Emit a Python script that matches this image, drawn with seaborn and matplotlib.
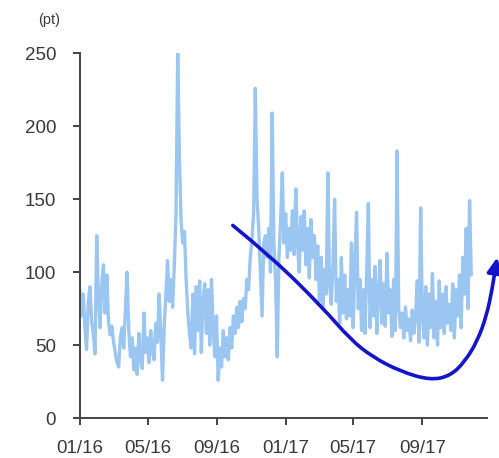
import matplotlib
matplotlib.use("Agg")
import matplotlib.pyplot as plt
import matplotlib.dates as mdates
from matplotlib.path import Path
from matplotlib.patches import FancyArrowPatch
import seaborn as sns
import pandas as pd

# serie, um ponto a cada 3 dias a partir de 01/01/2016
inicio = "2016-01-01"
valores = [
    88, 70, 85, 62, 47, 80, 90, 66, 58, 44,
    125, 84, 62, 92, 105, 72, 98, 66, 57, 63,
    52, 45, 38, 35, 55, 62, 48, 75, 100, 60,
    42, 55, 33, 48, 30, 58, 40, 34, 72, 45,
    55, 38, 60, 46, 40, 65, 52, 85, 58, 26,
    62, 85, 108, 80, 95, 76, 105, 140, 250, 180,
    135, 120, 128, 95, 72, 58, 48, 85, 44, 90,
    60, 94, 45, 80, 92, 58, 88, 50, 95, 62,
    42, 70, 26, 48, 35, 60, 42, 55, 40, 62,
    48, 70, 58, 76, 62, 80, 66, 82, 75, 95,
    88, 110, 122, 140, 226, 150, 130, 100, 70, 120,
    125, 110, 130, 100, 209, 120, 95, 42, 110, 135,
    168, 120, 140, 110, 130, 115, 142, 112, 157, 120,
    100, 138, 115, 142, 105, 130, 96, 136, 110, 125,
    95, 118, 80, 110, 76, 102, 85, 168, 92, 78,
    104, 150, 80, 95, 65, 110, 72, 98, 68, 88,
    70, 120, 62, 105, 141, 75, 95, 60, 88, 58,
    100, 147, 62, 95, 70, 104, 58, 85, 108, 65,
    92, 63, 113, 72, 88, 56, 95, 60, 183, 75,
    62, 72, 55, 76, 60, 68, 53, 74, 58, 70,
    94, 52, 144, 70, 55, 90, 50, 85, 62, 99,
    55, 80, 50, 94, 62, 85, 58, 90, 65, 78,
    60, 92, 55, 88, 70, 98, 62, 110, 85, 130,
    75, 149, 98,
]

# seta (tendencia desenhada a mao)
seta_datas = ["2016-09-29", "2016-12-08", "2017-03-07", "2017-04-26", "2017-06-04",
              "2017-07-24", "2017-09-15", "2017-10-21", "2017-11-16", "2017-12-08",
              "2017-12-24", "2018-01-03", "2018-01-12"]
seta_valores = [132, 110, 76, 54, 42, 32, 26, 29, 39, 53, 70, 88, 110]

yticks = [0, 50, 100, 150, 200, 250]

df = pd.DataFrame({"data": pd.date_range(inicio, periods=len(valores), freq="3D"),
                   "pt": valores})
seta = pd.DataFrame({"data": pd.to_datetime(seta_datas), "pt": seta_valores})

sns.set_style("ticks")
plt.rcParams["font.family"] = ["Liberation Sans", "DejaVu Sans"]

fig = plt.figure(figsize=(4.99, 4.58), dpi=100)
ax = fig.add_axes([0.160, 0.087, 0.816, 0.797])

sns.lineplot(x="data", y="pt", data=df, ax=ax, color="#9cc6f2", linewidth=2.4)

# seta suave: curvas quadraticas passando pelos pontos medios
xs = mdates.date2num(seta["data"])
ys = seta["pt"].values
verts = [(xs[0], ys[0])]
codes = [Path.MOVETO]
for i in range(1, len(xs) - 1):
    verts += [(xs[i], ys[i]), ((xs[i] + xs[i + 1]) / 2, (ys[i] + ys[i + 1]) / 2)]
    codes += [Path.CURVE3, Path.CURVE3]
verts.append((xs[-1], ys[-1]))
codes.append(Path.LINETO)
arrow = FancyArrowPatch(path=Path(verts, codes), arrowstyle="-|>,head_length=0.5,head_width=0.25",
                        mutation_scale=18, color="#1414c8", lw=2.6,
                        transform=ax.transData, clip_on=False, zorder=5)
ax.add_patch(arrow)

ax.set_ylim(0, 250)
ax.set_yticks(yticks)
ax.set_xlim(pd.Timestamp("2016-01-01"), pd.Timestamp("2017-12-25"))
ax.xaxis.set_major_locator(mdates.MonthLocator(bymonth=[1, 5, 9]))
ax.xaxis.set_major_formatter(mdates.DateFormatter("%m/%y"))
ax.set_xlabel("")
ax.set_ylabel("")

sns.despine(ax=ax)
for s in ["left", "bottom"]:
    ax.spines[s].set_color("#444444")
    ax.spines[s].set_linewidth(1.4)
ax.tick_params(axis="both", direction="out", length=5, width=1.4, color="#444444",
               labelsize=13.5, labelcolor="#3a3a3a")
ax.tick_params(axis="y", pad=12)
ax.tick_params(axis="x", pad=11)

fig.text(0.076, 0.956, "(pt)", fontsize=10.5, color="#3a3a3a", va="center")

fig.savefig("out.png", dpi=100)
